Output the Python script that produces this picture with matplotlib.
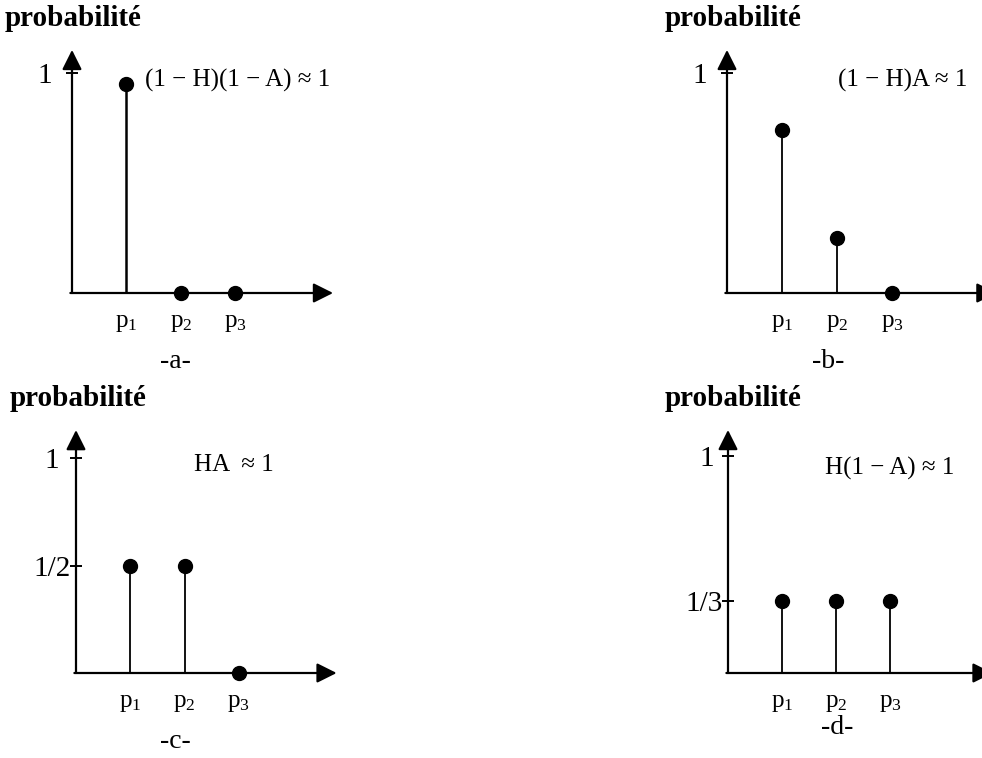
import matplotlib
matplotlib.use("Agg")
import matplotlib.pyplot as plt

plt.rcParams['font.family'] = ['Liberation Serif', 'DejaVu Serif']
plt.rcParams['mathtext.fontset'] = 'custom'
plt.rcParams['mathtext.rm'] = 'Liberation Serif'
plt.rcParams['mathtext.it'] = 'Liberation Serif:italic'

# ---------------- data ----------------
positions = [1, 2, 3]
position_labels = [r'$\mathrm{p}_1$', r'$\mathrm{p}_2$', r'$\mathrm{p}_3$']
probs_a = [0.95, 0.0, 0.0]
probs_b = [0.74, 0.25, 0.0]
probs_c = [0.5, 0.5, 0.0]
probs_d = [1/3, 1/3, 1/3]
yticks_a = [1]; yticklabels_a = ['1']
yticks_b = [1]; yticklabels_b = ['1']
yticks_c = [0.5, 1]; yticklabels_c = ['1/2', '1']
yticks_d = [1/3, 1]; yticklabels_d = ['1/3', '1']
annot_a = '(1 − H)(1 − A) ≈ 1'
annot_b = '(1 − H)A ≈ 1'
annot_c = 'HA  ≈ 1'
annot_d = 'H(1 − A) ≈ 1'
captions = ['-a-', '-b-', '-c-', '-d-']
ylabel = 'probabilité'

W, H = 982, 758
fig = plt.figure(figsize=(W / 100, H / 100), dpi=100)


def make_panel(ox, oy, ux, uy, xlim, ylim):
    left = (ox + xlim[0] * ux) / W
    right = (ox + xlim[1] * ux) / W
    bottom = 1 - (oy - ylim[0] * uy) / H
    top = 1 - (oy - ylim[1] * uy) / H
    ax = fig.add_axes([left, bottom, right - left, top - bottom])
    ax.set_xlim(*xlim)
    ax.set_ylim(*ylim)
    ax.patch.set_visible(False)
    for s in ['top', 'right']:
        ax.spines[s].set_visible(False)
    ax.spines['left'].set_position(('data', 0))
    ax.spines['bottom'].set_position(('data', 0))
    ax.spines['left'].set_visible(False)
    ax.spines['bottom'].set_visible(False)
    return ax


def draw_panel(ax, vals, yt, ytl, xtip, ytip, stem_lw, pads):
    arrow = dict(arrowstyle='-|>,head_length=0.6,head_width=0.3',
                 mutation_scale=20, lw=1.6, color='black', fc='black',
                 shrinkA=0, shrinkB=0)
    ax.annotate('', xy=(0, ytip), xytext=(0, 0), arrowprops=arrow,
                annotation_clip=False)
    ax.annotate('', xy=(xtip, 0), xytext=(-0.03, 0), arrowprops=arrow,
                annotation_clip=False)
    ax.vlines(positions, 0, vals, color='black', lw=stem_lw)
    ax.plot(positions, vals, 'o', color='black', ms=10, clip_on=False, zorder=5)
    ax.set_yticks(yt, ytl, fontsize=21)
    ax.tick_params(axis='y', direction='inout', length=8, width=1.4)
    for tk, p in zip(ax.yaxis.get_major_ticks(), pads):
        tk.set_pad(p)
    ax.set_xticks(positions, position_labels, fontsize=18)
    ax.tick_params(axis='x', length=0, pad=14)


xl = (-1.6, 5.2)
# panel a
ax_a = make_panel(72, 293, 54.5, 220, xl, (-0.45, 1.25))
draw_panel(ax_a, probs_a, yticks_a, yticklabels_a, 4.79, 1.105, 1.8, [10])
# panel b
ax_b = make_panel(727, 293, 55, 220, xl, (-0.45, 1.25))
draw_panel(ax_b, probs_b, yticks_b, yticklabels_b, 4.9, 1.105, 1.3, [10])
# panel c
ax_c = make_panel(76, 673, 54.3, 215, xl, (-0.45, 1.25))
draw_panel(ax_c, probs_c, yticks_c, yticklabels_c, 4.8, 1.13, 1.3, [0, 8])
# panel d
ax_d = make_panel(728, 673, 54, 217, xl, (-0.45, 1.25))
draw_panel(ax_d, probs_d, yticks_d, yticklabels_d, 4.9, 1.12, 1.3, [0, 6])


def ftext(px, py, s, **kw):
    fig.text(px / W, 1 - py / H, s, **kw)


# y labels
for px, py in [(5, 18), (665, 18), (10, 398), (665, 398)]:
    ftext(px, py, ylabel, fontsize=21, fontweight='bold', ha='left', va='center')

# annotations
ftext(145, 80, annot_a, fontsize=18, ha='left', va='center')
ftext(838, 80, annot_b, fontsize=18, ha='left', va='center')
ftext(194, 465, annot_c, fontsize=18, ha='left', va='center')
ftext(825, 468, annot_d, fontsize=18, ha='left', va='center')

# captions
for (px, py), c in zip([(175, 362), (828, 362), (175, 742), (837, 728)], captions):
    ftext(px, py, c, fontsize=20, ha='center', va='center')

fig.savefig('out.png', dpi=100)
